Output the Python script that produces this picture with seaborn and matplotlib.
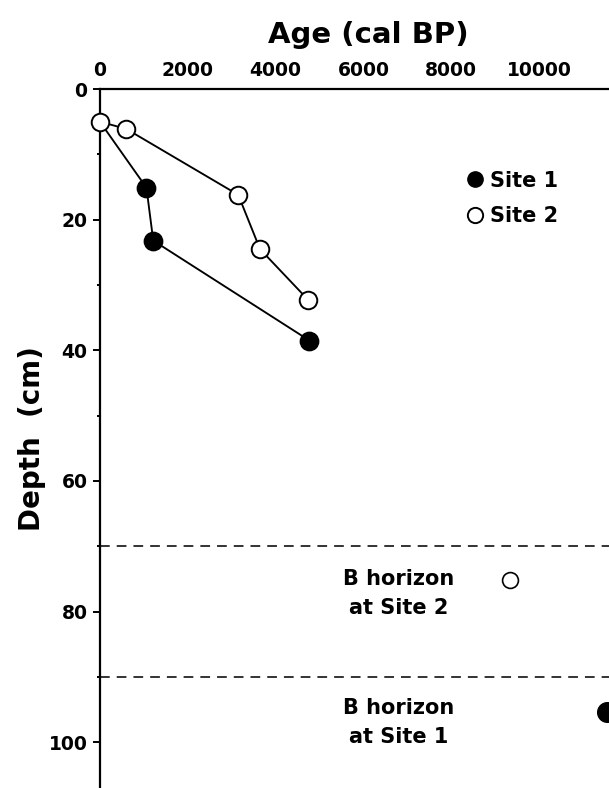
import pandas as pd
import matplotlib.pyplot as plt
from matplotlib.lines import Line2D
from matplotlib.ticker import MultipleLocator
import seaborn as sns

# surface sample shared by both profiles
surface_age = [0]
surface_depth = [5]

site1_age = [1060, 1215, 4770]
site1_depth = [15.1, 23.2, 38.5]

site2_age = [600, 3150, 3645, 4745]
site2_depth = [6.1, 16.2, 24.5, 32.3]

# B horizon ages
bhor1_age = [11550]
bhor1_depth = [95.3]
bhor2_age = [9325]
bhor2_depth = [75.1]

horizon_tops = [70, 90]
horizon_labels = ["B horizon\nat Site 2", "B horizon\nat Site 1"]
horizon_label_depth = [77.2, 97.0]
horizon_label_age = 6810

sns.set_style("ticks")
plt.rcParams["font.family"] = ["DejaVu Sans"]
plt.rcParams["font.weight"] = "bold"
plt.rcParams["text.color"] = "black"
plt.rcParams["axes.labelcolor"] = "black"
plt.rcParams["xtick.color"] = "black"
plt.rcParams["ytick.color"] = "black"


def main():
    line1 = pd.DataFrame({"age": surface_age + site1_age, "depth": surface_depth + site1_depth})
    line2 = pd.DataFrame({"age": surface_age + site2_age, "depth": surface_depth + site2_depth})

    fig = plt.figure(figsize=(6.09, 7.88), dpi=100)
    ax = fig.add_axes([0.164, 0.0, 0.836, 0.887])

    for d in horizon_tops:
        ax.axhline(d, color="#333333", lw=1.4, dashes=(5, 3.6), zorder=1)

    sns.lineplot(data=line1, x="age", y="depth", sort=False, estimator=None,
                 color="black", lw=1.35, ax=ax, zorder=2)
    sns.lineplot(data=line2, x="age", y="depth", sort=False, estimator=None,
                 color="black", lw=1.35, ax=ax, zorder=2)

    sns.scatterplot(x=site1_age, y=site1_depth, color="black", edgecolor="black",
                    s=175, linewidth=1.0, ax=ax, zorder=3)
    sns.scatterplot(x=surface_age + site2_age, y=surface_depth + site2_depth, color="white",
                    edgecolor="black", s=160, linewidth=1.4, ax=ax, zorder=3, clip_on=False)
    sns.scatterplot(x=bhor2_age, y=bhor2_depth, color="white", edgecolor="black",
                    s=130, linewidth=1.2, ax=ax, zorder=3)
    sns.scatterplot(x=bhor1_age, y=bhor1_depth, color="black", edgecolor="black",
                    s=200, linewidth=1.0, ax=ax, zorder=3)

    for lab, d in zip(horizon_labels, horizon_label_depth):
        ax.text(horizon_label_age, d, lab, ha="center", va="center",
                fontsize=15, fontweight="bold", linespacing=1.55)

    ax.set_xlim(0, 11590)
    ax.set_ylim(107, 0)
    ax.xaxis.set_major_locator(MultipleLocator(2000))
    ax.xaxis.set_minor_locator(MultipleLocator(1000))
    ax.yaxis.set_major_locator(MultipleLocator(20))
    ax.yaxis.set_minor_locator(MultipleLocator(10))
    ax.xaxis.tick_top()
    ax.xaxis.set_label_position("top")
    ax.tick_params(which="major", length=5, width=1.4, labelsize=13.5, pad=4)
    ax.tick_params(axis="x", which="major", pad=1.5)
    ax.tick_params(which="minor", length=2.5, width=1.4)
    for t in ax.get_xticklabels() + ax.get_yticklabels():
        t.set_fontweight("bold")

    sns.despine(ax=ax, top=False, right=True, bottom=True, left=False)
    for s in ("top", "left"):
        ax.spines[s].set_linewidth(1.6)
        ax.spines[s].set_color("black")

    ax.set_xlabel("Age (cal BP)", fontsize=21, fontweight="bold", va="center")
    ax.xaxis.set_label_coords(0.528, 1.078)
    ax.set_ylabel("Depth  (cm)", fontsize=20, fontweight="bold", va="center")
    ax.yaxis.set_label_coords(-0.134, 0.5)

    handles = [
        Line2D([], [], marker="o", ls="", color="black", markersize=11, label="Site 1"),
        Line2D([], [], marker="o", ls="", markerfacecolor="white", markeredgecolor="black",
               markeredgewidth=1.4, markersize=11, label="Site 2"),
    ]
    ax.legend(handles=handles, loc="upper left", bbox_to_anchor=(0.68, 0.91),
              frameon=False, handletextpad=0.2, labelspacing=0.75,
              handlelength=1.0, prop={"weight": "bold", "size": 15})

    fig.savefig("out.png", dpi=100)


if __name__ == "__main__":
    main()
